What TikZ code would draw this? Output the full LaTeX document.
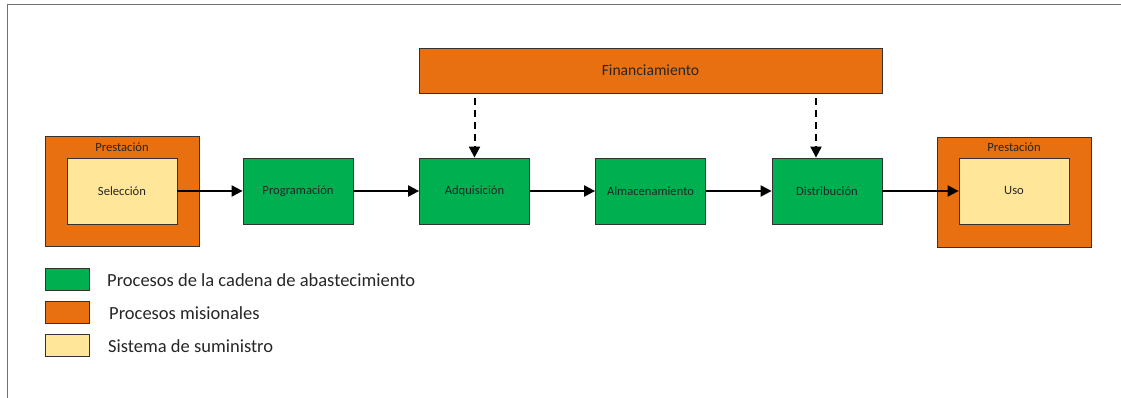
\documentclass[tikz,border=0pt]{standalone}
\usepackage{fontspec}
\setmainfont{Carlito}
\usetikzlibrary{arrows.meta}
\definecolor{procgreen}{HTML}{00B050}
\definecolor{misorange}{HTML}{E97010}
\definecolor{supyellow}{HTML}{FFE699}
\definecolor{framegray}{HTML}{707070}
\begin{document}
\begin{tikzpicture}[x=1pt,y=-1pt,
  box/.style={draw=black!80,line width=0.8pt,rectangle,inner sep=0pt,text=black!85},
  chain/.style={box,fill=procgreen,minimum width=110pt,minimum height=66pt,font=\fontsize{12.6}{14}\selectfont},
  supply/.style={box,fill=supyellow,minimum width=110pt,minimum height=66pt,font=\fontsize{12.6}{14}\selectfont},
  outer/.style={box,fill=misorange,minimum width=154pt,minimum height=110pt},
  flow/.style={line width=2pt,-{Triangle[length=11pt,width=11pt]}},
  fund/.style={flow,dash pattern=on 7pt off 5pt},
  swatch/.style={box,minimum width=44pt,minimum height=22pt},
  legtext/.style={anchor=west,inner sep=0pt,font=\fontsize{18.5}{20}\selectfont,text=black!85}]
\useasboundingbox (0,0) rectangle (1121,398);
% outer frame
\draw[framegray,line width=1.6pt] (1121,4.5) -- (7.5,4.5) -- (7.5,398);

% mission process containers
\node[outer] (presL) at (122,191) {};
\node[anchor=north,font=\fontsize{12.6}{14}\selectfont,text=black!85] (presLt) at (122,139) {Prestación};
\node[outer] (presR) at (1014,192) {};
\node[anchor=north,font=\fontsize{12.6}{14}\selectfont,text=black!85] (presRt) at (1014,139) {Prestación};

% supply chain
\node[supply] (sel) at (122,191) {Selección};
\node[chain] (prog) at (298,191) {Programación};
\node[chain] (adq) at (474.5,191) {Adquisición};
\node[chain] (alm) at (650.5,191) {Almacenamiento};
\node[chain] (dist) at (827,191) {Distribución};
\node[supply] (uso) at (1014,191) {Uso};

% funding
\node[box,fill=misorange,minimum width=463pt,minimum height=45pt,font=\fontsize{15.6}{17}\selectfont] (fin) at (650.5,70.5) {Financiamiento};

\draw[flow] (sel.east) -- (prog.west);
\draw[flow] (prog.east) -- (adq.west);
\draw[flow] (adq.east) -- (alm.west);
\draw[flow] (alm.east) -- (dist.west);
\draw[flow] (dist.east) -- (uso.west);

\coordinate (f1) at (474.5,98);
\coordinate (f2) at (816,98);
\draw[fund] (f1) -- (f1 |- adq.north);
\draw[fund] (f2) -- (f2 |- dist.north);

% legend
\node[swatch,fill=procgreen] (lg1) at (67,279.5) {};
\node[swatch,fill=misorange] (lg2) at (67,312) {};
\node[swatch,fill=supyellow] (lg3) at (67,345.5) {};
\node[legtext] (lt1) at (107,280) {Procesos de la cadena de abastecimiento};
\node[legtext] (lt2) at (109,313) {Procesos misionales};
\node[legtext] (lt3) at (108,346) {Sistema de suministro};
\end{tikzpicture}
\end{document}
